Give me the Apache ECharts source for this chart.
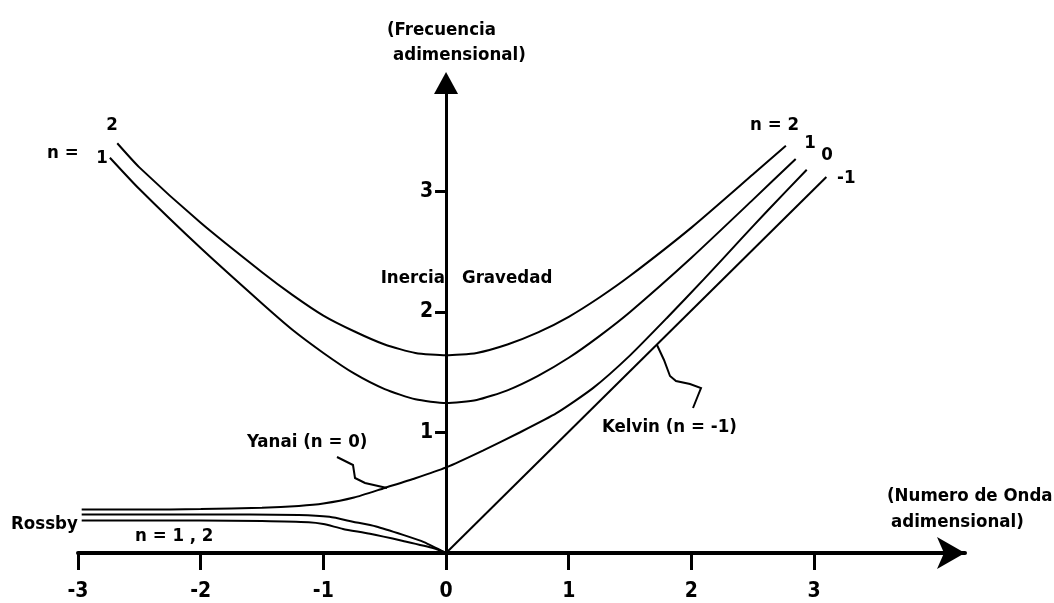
<!DOCTYPE html>
<html>
<head>
<meta charset="utf-8">
<title>Ondas ecuatoriales</title>
<script src="https://cdn.jsdelivr.net/npm/echarts@6/dist/echarts.min.js"></script>
<style>
  html, body { margin: 0; padding: 0; background: #fff; }
  #chart { width: 1054px; height: 603px; }
</style>
</head>
<body>
<div id="chart"></div>
<script>
// Tick values on each axis
const xTicks = [-3, -2, -1, 0, 1, 2, 3];
const yTicks = [1, 2, 3];

// Dispersion curves: [numero de onda, frecuencia] (adimensional)
const kelvinWave = [[0, 0], [3.10, 3.12]];
const yanaiWave = [
  [-2.97, 0.36], [-2.5, 0.36], [-2.0, 0.365], [-1.5, 0.375], [-1.2, 0.39],
  [-1.0, 0.41], [-0.75, 0.46], [-0.5, 0.54], [-0.25, 0.62], [0, 0.71],
  [0.3, 0.85], [0.6, 1.0], [0.9, 1.16], [1.2, 1.37], [1.5, 1.64],
  [1.8, 1.95], [2.1, 2.27], [2.4, 2.6], [2.62, 2.84], [2.94, 3.18]
];
const gravityN1 = [
  [-2.74, 3.28], [-2.5, 3.02], [-2.0, 2.53], [-1.5, 2.07], [-1.25, 1.85],
  [-1.0, 1.66], [-0.75, 1.49], [-0.5, 1.36], [-0.25, 1.275], [0, 1.245],
  [0.25, 1.27], [0.5, 1.35], [0.75, 1.47], [1.0, 1.62], [1.25, 1.80],
  [1.5, 2.0], [2.0, 2.45], [2.5, 2.93], [2.85, 3.27]
];
const gravityN2 = [
  [-2.68, 3.40], [-2.5, 3.20], [-2.0, 2.74], [-1.5, 2.33], [-1.25, 2.14],
  [-1.0, 1.97], [-0.75, 1.84], [-0.5, 1.73], [-0.25, 1.66], [0, 1.64],
  [0.25, 1.66], [0.5, 1.73], [0.75, 1.83], [1.0, 1.96], [1.25, 2.12],
  [1.5, 2.30], [2.0, 2.70], [2.5, 3.14], [2.77, 3.38]
];
const rossbyN1 = [
  [-2.97, 0.32], [-2.0, 0.32], [-1.2, 0.315], [-0.95, 0.30], [-0.76, 0.26],
  [-0.57, 0.22], [-0.35, 0.15], [-0.18, 0.09], [0, 0]
];
const rossbyN2 = [
  [-2.97, 0.27], [-2.0, 0.27], [-1.5, 0.265], [-1.12, 0.255], [-1.0, 0.24],
  [-0.84, 0.20], [-0.62, 0.16], [-0.35, 0.10], [-0.1, 0.04], [0, 0]
];

const FONT_FAMILY = "'DejaVu Sans Condensed', 'DejaVu Sans', sans-serif";
const TEXT_FONT = 'bold 18.5px ' + FONT_FAMILY;

// Plot frame: x from -3 to 4.23, y from 0 to 3.9
const X_MIN = -3, X_MAX = 4.23;
const Y_MIN = 0, Y_MAX = 3.9;
const GRID_LEFT = 78, GRID_RIGHT = 89, GRID_TOP = 83, GRID_BOTTOM = 50;
const PLOT_W = 1054 - GRID_LEFT - GRID_RIGHT;
// shift of the vertical axis from the grid's left edge to x = 0
const Y_AXIS_SHIFT = PLOT_W * (0 - X_MIN) / (X_MAX - X_MIN);

const chart = echarts.init(document.getElementById('chart'), null, { renderer: 'canvas' });

function curve(name, data) {
  return {
    name: name,
    type: 'line',
    data: data,
    showSymbol: false,
    smooth: 0.2,
    silent: true,
    lineStyle: { color: '#000', width: 2 },
    z: 3
  };
}

function label(text, x, y, align) {
  return {
    type: 'text',
    x: x,
    y: y,
    silent: true,
    style: {
      text: text,
      font: TEXT_FONT,
      fill: '#000',
      align: align || 'left',
      verticalAlign: 'middle'
    }
  };
}

function pointer(points) {
  return {
    type: 'polyline',
    silent: true,
    shape: { points: points },
    style: { stroke: '#000', lineWidth: 2, fill: null }
  };
}

const option = {
  backgroundColor: '#fff',
  animation: false,
  grid: {
    left: GRID_LEFT,
    right: GRID_RIGHT,
    top: GRID_TOP,
    bottom: GRID_BOTTOM,
    containLabel: false,
    outerBoundsMode: 'none'
  },
  xAxis: {
    type: 'value',
    min: X_MIN,
    max: X_MAX,
    interval: 1,
    splitLine: { show: false },
    axisLine: {
      onZero: true,
      lineStyle: { color: '#000', width: 4 },
      symbol: ['none', 'arrow'],
      symbolSize: [24, 28]
    },
    axisTick: {
      customValues: xTicks,
      length: 17,
      lineStyle: { color: '#000', width: 3 }
    },
    axisLabel: {
      customValues: xTicks,
      margin: 28,
      color: '#000',
      fontFamily: FONT_FAMILY,
      fontWeight: 'bold',
      fontSize: 21,
      formatter: function (v) { return v > 3.5 ? '' : String(v); }
    }
  },
  yAxis: {
    type: 'value',
    min: Y_MIN,
    max: Y_MAX,
    interval: 1,
    position: 'left',
    offset: -Y_AXIS_SHIFT,
    splitLine: { show: false },
    axisLine: {
      onZero: false,
      lineStyle: { color: '#000', width: 3 },
      symbol: ['none', 'triangle'],
      symbolSize: [24, 22]
    },
    axisTick: {
      customValues: yTicks,
      length: 11,
      lineStyle: { color: '#000', width: 3 }
    },
    axisLabel: {
      customValues: yTicks,
      margin: 13,
      color: '#000',
      fontFamily: FONT_FAMILY,
      fontWeight: 'bold',
      fontSize: 21,
      formatter: function (v) { return v < 0.5 || v > 3.5 ? '' : String(v); }
    }
  },
  series: [
    curve('Kelvin', kelvinWave),
    curve('Yanai', yanaiWave),
    curve('Gravedad n=1', gravityN1),
    curve('Gravedad n=2', gravityN2),
    curve('Rossby n=1', rossbyN1),
    curve('Rossby n=2', rossbyN2)
  ],
  graphic: [
    label('(Frecuencia', 387, 30),
    label('adimensional)', 393, 55),
    label('(Numero de Onda', 887, 496),
    label('adimensional)', 891, 522),
    label('Inercia', 445, 278, 'right'),
    label('Gravedad', 462, 278),
    label('Yanai (n = 0)', 247, 442),
    label('Kelvin (n = -1)', 602, 427),
    label('Rossby', 11, 524),
    label('n = 1 , 2', 135, 536),
    label('n =', 47, 153),
    label('1', 102, 158, 'center'),
    label('2', 112, 125, 'center'),
    label('n = 2', 750, 125),
    label('1', 810, 143, 'center'),
    label('0', 827, 155, 'center'),
    label('-1', 837, 178),
    pointer([[337, 457], [353, 465], [355, 478], [365, 483], [387, 488]]),
    pointer([[657, 345], [664, 360], [670, 376], [676, 381], [690, 384], [701, 388], [697, 398], [693, 408]])
  ]
};

chart.setOption(option);
</script>
</body>
</html>
